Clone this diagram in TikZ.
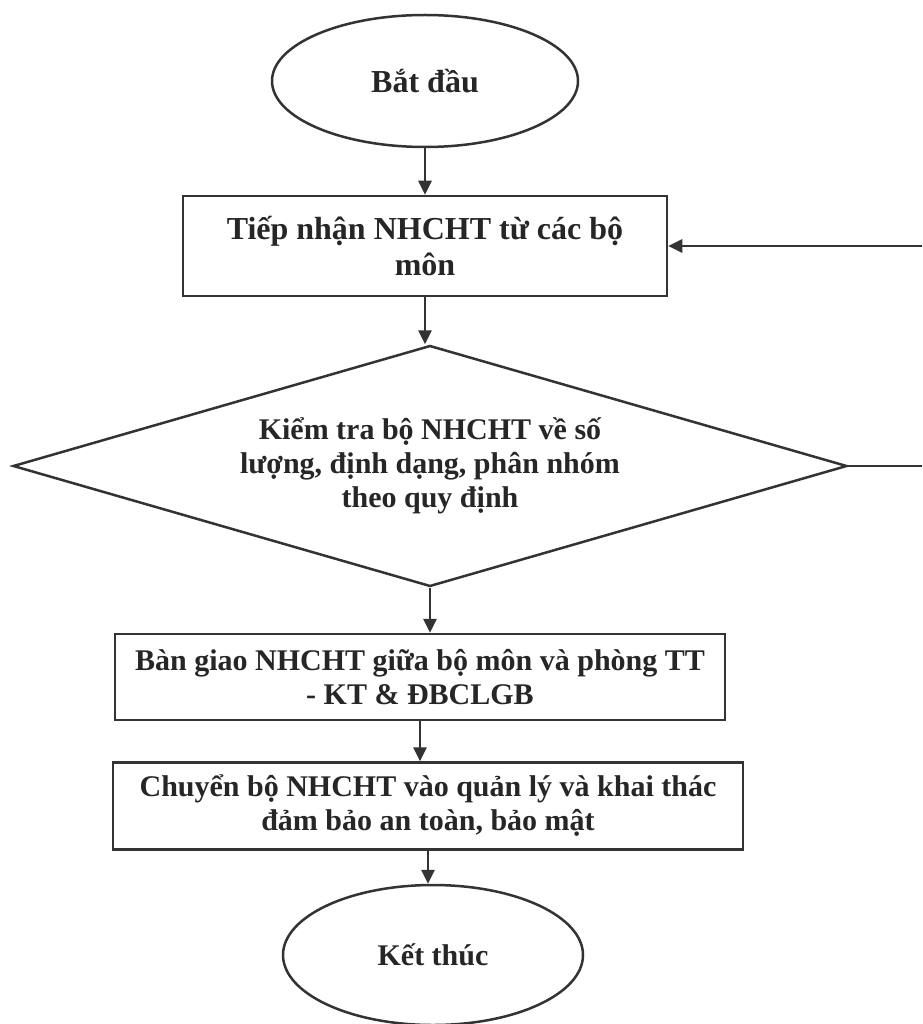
\documentclass[tikz,border=0pt]{standalone}
\usepackage{fontspec}
\setmainfont{Liberation Serif}
\usetikzlibrary{
    arrows.meta,
    shapes.geometric,
    positioning
}

\tikzset{
    flow/.style={draw=black!80, line width=2.5pt, font=\fontsize{30}{34}\selectfont\bfseries,
                 align=center, inner sep=0pt, text=black!85},
    big/.style={font=\fontsize{32}{36}\selectfont\bfseries},
    terminal/.style={flow, shape=ellipse},
    procbox/.style={flow, shape=rectangle},
    testbox/.style={flow, shape=diamond, aspect=3.46},
    arr/.style={draw=black!80, line width=2.6pt, -{Triangle[length=14pt, width=13pt]}}
}

\begin{document}
\begin{tikzpicture}[x=1pt, y=-1pt]
    \clip (0,0) rectangle (922,1024);
    \fill[white] (0,0) rectangle (922,1024);
    \path (425,81)  node (start) [terminal, big, minimum width=306pt, minimum height=132pt] {Bắt đầu}
          (425,246) node (recv)  [procbox, big, minimum width=484pt, minimum height=100pt]
                {Tiếp nhận NHCHT từ các bộ\\môn}
          (430,466) node (chk)   [testbox, minimum width=834pt, minimum height=241pt]
                {Kiểm tra bộ NHCHT về số\\lượng, định dạng, phân nhóm\\theo quy định}
          (420,677) node (hand)  [procbox, minimum width=610pt, minimum height=86pt]
                {Bàn giao NHCHT giữa bộ môn và phòng TT\\- KT \& ĐBCLGB}
          (428,806) node (store) [procbox, minimum width=630pt, minimum height=87pt]
                {Chuyển bộ NHCHT vào quản lý và khai thác\\đảm bảo an toàn, bảo mật}
          (433,955) node (finish) [terminal, minimum width=300pt, minimum height=140pt] {Kết thúc};
    % main flow
    \draw[arr] (start.south) -- (start.south |- recv.north);
    \draw[arr] (recv.south) -- (recv.south |- chk.north);
    \draw[arr] (chk.south) -- (chk.south |- hand.north);
    \draw[arr] (hand.south) -- (hand.south |- store.north);
    \draw[arr] (store.south) -- (store.south |- finish.north);
    % loop back (runs off the right edge)
    \coordinate (back) at (950,466);
    \draw[arr] (chk.east) -- (back) |- (recv.east);
\end{tikzpicture}
\end{document}
